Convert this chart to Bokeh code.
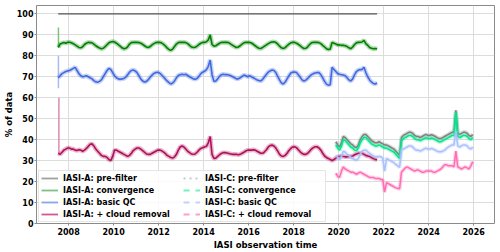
from bokeh.plotting import figure
from bokeh.models import Range1d, FixedTicker, Legend, LegendItem
from bokeh.embed import file_html
from bokeh.resources import INLINE

# ---------------- data (monthly means) ----------------
a_start = 2007.5          # IASI-A series start (Jul 2007), monthly values
c_start = 2019 + 10 / 12  # IASI-C series start (Nov 2019), monthly values

a_prefilter_t = [2007.54, 2021.71]
a_prefilter = [100.0, 100.0]

a_convergence = [
    84.0, 85.6, 86.0, 86.3, 86.0, 86.5,
    86.5, 86.2, 85.8, 85.2, 84.6, 84.0, 83.8, 84.3, 85.4, 86.0, 86.4, 86.3,
    86.2, 85.6, 84.8, 84.2, 83.7, 83.4, 83.6, 84.4, 85.3, 86.2, 86.6, 86.8,
    86.6, 86.0, 85.3, 84.6, 83.8, 83.4, 83.6, 84.3, 85.6, 86.3, 86.4, 86.5,
    86.4, 86.3, 86.0, 85.5, 84.8, 84.2, 84.0, 84.4, 85.2, 85.8, 86.3, 86.4,
    86.4, 86.2, 85.6, 84.8, 83.8, 83.0, 82.6, 83.2, 84.4, 85.6, 86.3, 86.5,
    86.4, 86.5, 86.3, 85.8, 85.0, 84.2, 84.0, 84.1, 84.6, 85.4, 86.0, 86.4,
    86.4, 86.7, 87.6, 90.0, 85.4, 84.6, 84.8, 85.4, 86.0, 86.4, 86.4, 86.5,
    86.4, 86.2, 85.6, 85.0, 84.4, 84.0, 84.2, 84.8, 85.6, 86.2, 86.4, 86.4,
    86.4, 86.1, 85.5, 84.8, 84.1, 83.6, 83.5, 84.0, 84.6, 85.2, 85.8, 86.3,
    86.6, 86.7, 86.4, 85.6, 84.6, 83.8, 83.5, 83.9, 84.8, 85.6, 86.2, 86.4,
    86.4, 86.0, 85.5, 84.8, 84.0, 83.5, 83.6, 84.3, 85.4, 86.2, 86.4, 86.5,
    86.4, 86.3, 85.8, 85.0, 84.2, 83.4, 83.0, 83.2, 86.4, 86.0, 85.6, 85.2,
    85.2, 85.0, 85.0, 84.8, 84.4, 83.8, 83.4, 84.2, 85.4, 86.2, 86.4, 86.5,
    86.6, 87.4, 85.8, 85.0, 84.0, 83.6, 83.4, 83.5, 83.2,
]

a_basic_qc = [
    69.5, 70.5, 71.5, 72.0, 72.5, 72.8,
    73.0, 73.5, 74.0, 74.5, 73.0, 71.5, 70.5, 70.0, 70.2, 70.5, 70.0, 69.5,
    69.0, 68.2, 67.6, 67.4, 67.8, 68.5, 70.0, 71.5, 73.0, 74.0, 73.5, 72.0,
    70.5, 69.5, 69.0, 68.8, 69.0, 69.2, 69.8, 71.0, 72.2, 73.0, 73.2, 72.8,
    72.0, 70.5, 69.0, 68.0, 67.5, 67.8, 68.6, 69.8, 70.8, 71.6, 72.0, 72.2,
    71.8, 71.0, 70.0, 69.0, 68.0, 67.2, 66.6, 67.0, 68.0, 69.5, 70.6, 71.0,
    71.2, 71.0, 71.2, 70.6, 70.0, 69.5, 69.0, 68.8, 69.2, 70.2, 71.5, 72.2,
    72.6, 73.4, 75.0, 78.0, 71.0, 67.8, 68.0, 69.0, 70.2, 71.0, 71.2, 71.0,
    71.0, 70.8, 70.5, 70.0, 69.5, 69.0, 69.0, 69.5, 70.2, 70.8, 70.5, 70.0,
    70.5, 70.0, 69.5, 69.0, 68.5, 68.2, 68.0, 68.8, 70.0, 71.2, 72.2, 72.8,
    73.2, 73.0, 72.0, 70.2, 68.5, 67.0, 66.6, 67.5, 69.0, 70.5, 71.8, 72.2,
    72.3, 72.0, 71.0, 69.8, 68.5, 68.0, 68.4, 69.2, 70.2, 71.0, 71.5, 71.8,
    72.0, 72.0, 71.0, 69.5, 67.8, 66.5, 66.0, 66.2, 74.5, 73.5, 72.5, 71.5,
    71.2, 71.0, 70.8, 70.5, 69.5, 68.5, 68.0, 69.0, 71.0, 72.5, 73.2, 73.4,
    73.5, 74.5, 72.0, 70.0, 68.5, 67.5, 66.8, 66.6, 67.0,
]

a_cloud_removal = [
    33.5, 33.0, 34.0, 35.0, 35.5, 36.0,
    36.0, 35.5, 35.5, 35.0, 34.8, 35.2, 35.0, 34.5, 35.0, 35.8, 36.8, 37.8,
    38.0, 37.0, 35.5, 34.5, 33.5, 32.5, 32.0, 32.0, 31.5, 30.5, 30.0, 32.0,
    35.0, 35.0, 34.5, 34.0, 33.5, 33.0, 32.5, 32.0, 32.5, 33.5, 34.8, 35.5,
    36.0, 36.0, 35.5, 34.8, 34.0, 33.2, 33.0, 33.0, 33.5, 34.0, 34.5, 35.0,
    35.0, 34.8, 34.2, 33.5, 32.5, 32.0, 31.5, 31.2, 31.8, 33.0, 35.0, 36.5,
    37.0, 36.5, 35.5, 34.5, 33.8, 33.2, 33.0, 33.2, 34.0, 35.0, 35.8, 36.2,
    36.5, 36.8, 38.5, 41.5, 33.0, 31.0, 31.2, 32.0, 32.8, 33.5, 33.8, 33.8,
    33.6, 33.4, 33.2, 33.0, 33.0, 33.0, 32.8, 33.0, 33.5, 34.0, 34.6, 35.0,
    35.0, 35.0, 35.2, 35.0, 34.5, 34.0, 33.5, 33.5, 34.2, 35.2, 36.5, 37.2,
    37.4, 37.0, 36.0, 34.5, 33.0, 32.2, 32.0, 32.5, 33.5, 34.8, 35.8, 36.5,
    36.6, 36.2, 35.2, 34.2, 33.4, 33.0, 33.0, 33.5, 34.5, 35.5, 36.2, 36.6,
    36.6, 36.0, 35.0, 33.5, 32.2, 31.5, 31.0, 30.6, 30.0, 30.5, 31.2, 31.8,
    32.0, 32.2, 32.0, 31.8, 31.8, 32.0, 32.0, 32.2, 32.8, 33.2, 33.5, 33.5,
    33.5, 33.0, 32.5, 32.2, 32.0, 31.5, 31.0, 30.6, 30.4,
]

# first-day outliers of IASI-A (date, value)
a_first_day_t = 2007.55
a_first_day_convergence = 93.5
a_first_day_basic_qc = 80.0
a_first_day_cloud = 60.0

c_prefilter = [
    39.0, 37.5,
    36.5, 38.5, 41.5, 41.0, 40.0, 39.0, 38.0, 37.5, 36.5, 36.3, 37.5, 40.0,
    41.5, 42.5, 42.5, 41.5, 40.5, 39.5, 39.0, 38.5, 38.5, 39.0, 38.5, 38.0,
    37.5, 37.5, 37.0, 36.5, 36.0, 35.5, 34.5, 33.5, 32.5, 41.0, 42.0, 42.5,
    43.0, 43.5, 43.5, 43.0, 42.0, 41.5, 41.5, 41.0, 41.5, 42.0, 42.5, 42.0,
    42.0, 42.3, 42.0, 41.5, 41.0, 40.5, 40.5, 41.0, 41.5, 42.0, 42.5, 43.0,
    43.5, 43.5, 54.0, 43.0, 42.5, 43.0, 43.5, 43.5, 43.0, 42.0, 41.5, 42.5,
]

c_convergence = [
    37.5, 36.0,
    35.0, 37.0, 40.0, 39.5, 38.5, 37.5, 36.5, 36.0, 35.0, 34.8, 36.0, 38.5,
    40.0, 41.0, 41.0, 40.0, 39.0, 38.0, 37.5, 37.0, 37.0, 37.5, 37.0, 36.5,
    36.0, 36.0, 35.5, 35.0, 34.5, 34.0, 33.0, 32.0, 31.0, 39.5, 40.5, 41.0,
    41.5, 42.0, 42.0, 41.5, 40.5, 40.0, 40.0, 39.5, 40.0, 40.5, 41.0, 40.5,
    40.5, 40.8, 40.5, 40.0, 39.5, 39.0, 39.0, 39.5, 40.0, 40.5, 41.0, 41.5,
    42.0, 42.0, 53.0, 41.5, 41.0, 41.5, 42.0, 42.0, 41.5, 40.5, 40.0, 41.0,
]

c_basic_qc = [
    32.5, 31.5,
    30.5, 32.0, 34.5, 34.0, 33.0, 32.5, 31.5, 31.0, 30.5, 30.2, 31.0, 33.0,
    34.5, 35.0, 35.0, 34.2, 33.5, 32.8, 32.2, 31.8, 31.8, 32.0, 31.8, 31.2,
    25.0, 31.0, 30.5, 30.0, 29.5, 29.0, 28.2, 27.5, 26.8, 35.0, 35.5, 36.0,
    36.5, 37.0, 37.0, 36.5, 35.5, 35.0, 35.0, 34.5, 35.0, 35.5, 36.0, 35.5,
    35.5, 35.8, 35.5, 35.0, 34.5, 34.2, 34.2, 34.5, 35.0, 35.8, 36.5, 37.0,
    37.5, 37.5, 44.0, 37.0, 36.5, 37.0, 37.5, 37.5, 37.0, 36.0, 35.5, 36.5,
]

c_cloud_removal = [
    24.0, 22.5,
    22.0, 25.0, 27.0, 26.0, 25.5, 25.0, 24.5, 24.5, 24.0, 23.5, 24.0, 24.5,
    24.0, 23.5, 23.0, 22.5, 22.0, 22.0, 22.0, 21.5, 21.5, 21.5, 21.0, 21.0,
    15.0, 19.5, 19.0, 18.5, 18.0, 17.5, 17.0, 16.8, 16.5, 24.5, 25.5, 26.5,
    27.0, 26.5, 26.0, 25.5, 25.0, 25.5, 25.5, 25.0, 24.5, 24.5, 25.0, 25.0,
    25.0, 25.0, 24.5, 24.5, 25.0, 25.5, 26.0, 27.0, 28.0, 28.0, 27.5, 27.5,
    27.5, 27.0, 34.5, 27.0, 26.5, 26.0, 26.5, 27.0, 26.5, 26.0, 27.5, 29.5,
]

x_ticks = [2008, 2010, 2012, 2014, 2016, 2018, 2020, 2022, 2024, 2026]
y_ticks = [0, 10, 20, 30, 40, 50, 60, 70, 80, 90, 100]

labels_a = ["IASI-A: pre-filter", "IASI-A: convergence", "IASI-A: basic QC", "IASI-A: + cloud removal"]
labels_c = ["IASI-C: pre-filter", "IASI-C: convergence", "IASI-C: basic QC", "IASI-C: + cloud removal"]

t_a = [a_start + (i + 0.5) / 12 for i in range(len(a_convergence))]
t_c = [c_start + (i + 0.5) / 12 for i in range(len(c_convergence))]

# ---------------- figure ----------------
FONT = "DejaVu Sans"
p = figure(width=500, height=252, output_backend="svg", toolbar_location=None,
           x_range=Range1d(2006.575, 2026.925), y_range=Range1d(0, 104),
           min_border_left=33, min_border_right=6, min_border_top=5, min_border_bottom=24)
p.extra_y_ranges = {"legend_proxy": Range1d(1000, 1001)}  # proxies drawn out of view
p.background_fill_color = "white"
p.border_fill_color = "white"
p.outline_line_color = "#8a8a8a"
p.outline_line_width = 1

for ax in (p.xaxis[0], p.yaxis[0]):
    ax.axis_line_color = None
    ax.major_tick_line_color = "#8a8a8a"
    ax.major_tick_out = 2
    ax.major_tick_in = 0
    ax.minor_tick_line_color = None
    ax.major_label_text_font = FONT
    ax.major_label_text_font_style = "bold"
    ax.major_label_text_font_size = "8px"
    ax.major_label_text_color = "black"
    ax.axis_label_text_font = FONT
    ax.axis_label_text_font_style = "bold"
    ax.axis_label_text_font_size = "8.5px"
    ax.axis_label_text_color = "black"
    ax.major_label_standoff = 2
    ax.axis_label_standoff = 2
p.yaxis.axis_label_standoff = 0
p.yaxis.major_label_standoff = 1

p.xaxis.ticker = FixedTicker(ticks=x_ticks)
p.yaxis.ticker = FixedTicker(ticks=y_ticks)
p.xaxis.axis_label = "IASI observation time"
p.yaxis.axis_label = "% of data"
p.grid.grid_line_color = "#dcdcdc"
p.grid.grid_line_width = 1

# IASI-A
p.line(a_prefilter_t, a_prefilter, line_color="#555555", line_width=1.2)
p.segment(x0=[a_first_day_t], y0=[a_convergence[0]], x1=[a_first_day_t], y1=[a_first_day_convergence],
          line_color="#80c080", line_width=1.5)
p.segment(x0=[a_first_day_t], y0=[a_basic_qc[0] - 5], x1=[a_first_day_t], y1=[a_first_day_basic_qc],
          line_color="#a9bcf2", line_width=1.5)
p.segment(x0=[a_first_day_t + 0.02], y0=[a_cloud_removal[0]], x1=[a_first_day_t + 0.02], y1=[a_first_day_cloud],
          line_color="#e08ab0", line_width=1.5)

for vals, col in ((a_convergence, "#008000"), (a_basic_qc, "#4169e1"), (a_cloud_removal, "#b0105a")):
    p.line(t_a, vals, line_color=col, line_width=4.5, line_alpha=0.3)
    p.line(t_a, vals, line_color=col, line_width=1.6)

# IASI-C
for vals, col in ((c_prefilter, "#7f7f7f"), (c_convergence, "#00e68c"),
                  (c_basic_qc, "#aac0ff"), (c_cloud_removal, "#ff6eb4")):
    p.line(t_c, vals, line_color=col, line_width=4, line_alpha=0.3)
    p.line(t_c, vals, line_color=col, line_width=1.5)

# legend proxies (lighter, as in the reference legend), plotted on an out-of-view range
styles_a = [("#a0a0a0", "solid"), ("#80c080", "solid"), ("#8aa4ee", "solid"), ("#d4588c", "solid")]
styles_c = [("#c8c8c8", "dotted"), ("#70f5b8", "dashed"), ("#c2d2ff", "dashed"), ("#ff9ccc", "dashed")]
series_all = [a_prefilter, a_convergence, a_basic_qc, a_cloud_removal,
              c_prefilter, c_convergence, c_basic_qc, c_cloud_removal]
times_all = [a_prefilter_t, t_a, t_a, t_a, t_c, t_c, t_c, t_c]
items = []
for lab, (col, dash), tt, vv in zip(labels_a + labels_c, styles_a + styles_c, times_all, series_all):
    r = p.line(tt, vv, line_color=col, line_width=1.8, line_dash=dash, y_range_name="legend_proxy")
    items.append(LegendItem(label=lab, renderers=[r]))

legend = Legend(items=items, ncols=2, location=(2, 1))
legend.label_text_font = FONT
legend.label_text_font_style = "bold"
legend.label_text_font_size = "8px"
legend.label_text_color = "black"
legend.glyph_width = 17
legend.glyph_height = 10
legend.label_height = 10
legend.label_width = 118
legend.label_standoff = 5
legend.spacing = 2
legend.padding = 2
legend.margin = 0
legend.border_line_color = "#cccccc"
legend.background_fill_alpha = 0.85
p.add_layout(legend)

open("out.html", "w").write(file_html(p, INLINE))
